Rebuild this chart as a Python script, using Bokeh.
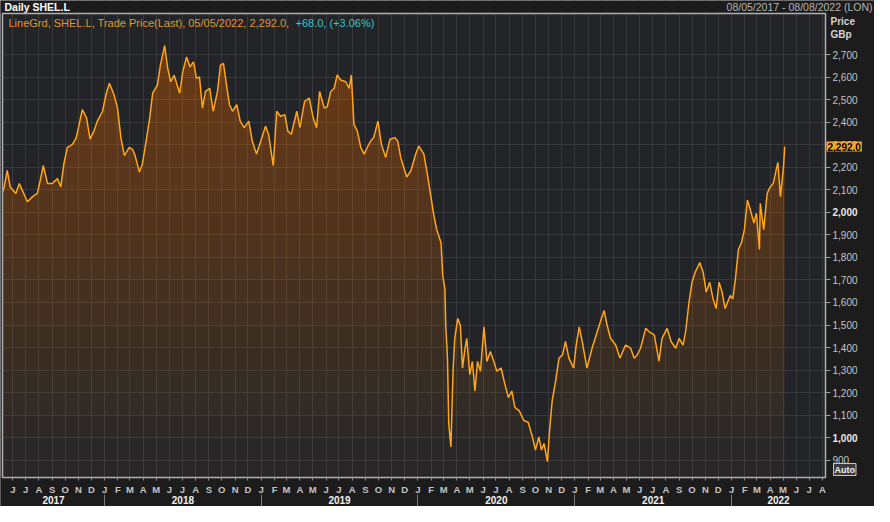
import numpy as np
import pandas as pd
from bokeh.plotting import figure
from bokeh.models import FixedTicker, NumeralTickFormatter, Label, DatetimeAxis, LinearAxis, Range1d, Grid
from bokeh.embed import file_html
from bokeh.resources import INLINE

# ---------------- data ----------------
DATES = [
    "2017-05-08", "2017-05-12", "2017-05-19", "2017-05-26", "2017-06-08", "2017-06-16", "2017-06-23",
    "2017-07-05", "2017-07-17", "2017-07-28", "2017-08-04", "2017-08-11", "2017-08-21", "2017-09-01",
    "2017-09-13", "2017-09-21", "2017-09-28", "2017-10-06", "2017-10-18", "2017-10-27", "2017-11-10",
    "2017-11-20", "2017-11-28", "2017-12-07", "2017-12-15", "2017-12-27",
    "2018-01-04", "2018-01-12", "2018-01-23", "2018-01-31", "2018-02-08", "2018-02-16", "2018-02-27",
    "2018-03-07", "2018-03-13", "2018-03-23", "2018-03-30", "2018-04-09", "2018-04-16", "2018-04-23",
    "2018-05-04", "2018-05-11", "2018-05-21", "2018-05-28", "2018-06-04", "2018-06-12", "2018-06-25",
    "2018-07-02", "2018-07-11", "2018-07-19", "2018-07-27", "2018-08-03", "2018-08-10", "2018-08-17",
    "2018-08-24", "2018-09-03", "2018-09-11", "2018-09-21", "2018-09-28", "2018-10-05", "2018-10-12",
    "2018-10-19", "2018-10-26", "2018-11-05", "2018-11-13", "2018-11-22", "2018-12-03", "2018-12-11",
    "2018-12-21", "2018-12-31",
    "2019-01-11", "2019-01-18", "2019-01-29", "2019-02-06", "2019-02-15", "2019-02-25", "2019-03-04",
    "2019-03-12", "2019-03-25", "2019-04-01", "2019-04-12", "2019-04-23", "2019-05-02", "2019-05-10",
    "2019-05-17", "2019-05-28", "2019-06-04", "2019-06-12", "2019-06-20", "2019-06-27", "2019-07-05",
    "2019-07-17", "2019-07-25", "2019-07-30", "2019-08-05", "2019-08-13", "2019-08-21", "2019-08-29",
    "2019-09-05", "2019-09-13", "2019-09-20", "2019-09-30", "2019-10-08", "2019-10-18", "2019-10-28",
    "2019-11-08", "2019-11-15", "2019-11-22", "2019-12-06", "2019-12-16", "2019-12-27",
    "2020-01-03", "2020-01-15", "2020-01-23", "2020-01-29", "2020-02-07", "2020-02-14", "2020-02-24",
    "2020-02-28", "2020-03-04", "2020-03-06", "2020-03-10", "2020-03-13", "2020-03-18", "2020-03-23",
    "2020-03-27", "2020-04-03", "2020-04-09", "2020-04-14", "2020-04-20", "2020-04-24", "2020-05-01",
    "2020-05-07", "2020-05-13", "2020-05-19", "2020-05-26", "2020-06-03", "2020-06-10", "2020-06-18",
    "2020-06-26", "2020-07-03", "2020-07-13", "2020-07-20", "2020-07-30", "2020-08-07", "2020-08-14",
    "2020-08-24", "2020-09-04", "2020-09-14", "2020-09-24", "2020-10-01", "2020-10-09", "2020-10-15",
    "2020-10-21", "2020-10-29", "2020-11-03", "2020-11-09", "2020-11-17", "2020-11-25", "2020-12-03",
    "2020-12-10", "2020-12-18", "2020-12-29",
    "2021-01-04", "2021-01-11", "2021-01-18", "2021-01-29", "2021-02-10", "2021-02-22", "2021-03-10",
    "2021-03-17", "2021-03-25", "2021-04-06", "2021-04-16", "2021-04-29", "2021-05-11", "2021-05-19",
    "2021-05-26", "2021-06-03", "2021-06-15", "2021-06-23", "2021-07-05", "2021-07-16", "2021-07-23",
    "2021-08-04", "2021-08-13", "2021-08-24", "2021-09-01", "2021-09-10", "2021-09-16", "2021-09-24",
    "2021-10-01", "2021-10-08", "2021-10-19", "2021-10-27", "2021-11-03", "2021-11-11", "2021-11-19",
    "2021-11-26", "2021-12-03", "2021-12-10", "2021-12-17", "2021-12-29",
    "2022-01-04", "2022-01-10", "2022-01-17", "2022-01-24", "2022-01-31", "2022-02-07", "2022-02-14",
    "2022-02-22", "2022-02-28", "2022-03-07", "2022-03-09", "2022-03-17", "2022-03-25", "2022-04-01",
    "2022-04-08", "2022-04-19", "2022-04-25", "2022-05-02", "2022-05-05",
]
PRICES = [
    2090, 2113, 2186, 2113, 2084, 2128, 2099,
    2047, 2070, 2084, 2142, 2208, 2128, 2128,
    2150, 2113, 2215, 2288, 2302, 2332, 2456,
    2419, 2325, 2361, 2405, 2448,
    2522, 2573, 2522, 2463, 2332, 2252, 2288,
    2280, 2252, 2179, 2215, 2332, 2419, 2529,
    2565, 2654, 2741, 2639, 2580, 2609, 2529,
    2624, 2690, 2646, 2668, 2595, 2602, 2463,
    2537, 2551, 2449, 2537, 2654, 2661, 2566,
    2478, 2449, 2478, 2405, 2376, 2405, 2317,
    2259, 2317,
    2383, 2347, 2208, 2449, 2427, 2434, 2361,
    2347, 2449, 2376, 2493, 2507, 2420, 2376,
    2537, 2463, 2470, 2537, 2551, 2610, 2588,
    2580, 2551, 2610, 2391, 2361, 2288, 2259,
    2288, 2317, 2332, 2405, 2302, 2244, 2325,
    2332, 2317, 2244, 2157, 2186, 2259,
    2295, 2259, 2171, 2100, 1989, 1923, 1865,
    1718, 1660, 1499, 1353, 1061, 959, 1295,
    1441, 1529, 1499, 1309, 1397, 1441, 1280,
    1338, 1207, 1338, 1295, 1492, 1338, 1382,
    1338, 1295, 1309, 1251, 1178, 1207, 1134,
    1120, 1076, 1068, 1003, 945, 1003, 945,
    974, 893, 1032, 1163, 1251, 1353, 1367,
    1427, 1353, 1309,
    1411, 1492, 1427, 1309, 1397, 1470, 1565,
    1499, 1441, 1411, 1353, 1411, 1397, 1353,
    1367, 1397, 1485, 1470, 1456, 1339, 1441,
    1485, 1427, 1397, 1441, 1411, 1470, 1602,
    1690, 1733, 1777, 1733, 1646, 1690, 1616,
    1573, 1690, 1646, 1573, 1631,
    1616, 1704, 1835, 1865, 1923, 2055, 2011,
    1953, 1996, 1835, 2040, 1923, 2084, 2113,
    2128, 2222, 2070, 2201, 2292,
]
MONTH_LETTERS = ["J", "F", "M", "A", "M", "J", "J", "A", "S", "O", "N", "D"]
YEAR_LABELS = ["2017", "2018", "2019", "2020", "2021", "2022"]
Y_TICKS = list(range(900, 2800, 100))
RANGE_START = "2017-05-08"
RANGE_END = "2022-08-08"
Y_MIN, Y_MAX = 823, 2883

HEADER_TEXT = "Daily SHEL.L"
RANGE_TEXT = "08/05/2017 - 08/08/2022 (LON)"
INFO_TEXT = "LineGrd, SHEL.L, Trade Price(Last), 05/05/2022, 2,292.0,"
CHANGE_TEXT = "+68.0, (+3.06%)"
AXIS_TITLE_1 = "Price"
AXIS_TITLE_2 = "GBp"
AUTO_TEXT = "Auto"

# ---------------- layout / styling ----------------
FONT = "Liberation Sans"
BG = "#1c1c1c"
PLOT_BG = "#222428"
GRID = "#37393d"
LINE = "#ffa61c"
FILL = "#f08c10"
W, H = 874, 506            # canvas
PL, PT = 2, 13             # plot-area offset inside canvas
FW, FH = 823, 464          # plot-area size


def ms(t):
    return int(pd.Timestamp(t).value // 10**6)


x0, x1 = ms(RANGE_START), ms(RANGE_END)
kx = (x1 - x0) / FW                   # ms per pixel
ky = (Y_MAX - Y_MIN) / FH             # price units per pixel
X_LO, X_HI = x0 - PL * kx, x1 + (W - PL - FW) * kx
Y_LO, Y_HI = Y_MIN - (H - PT - FH) * ky, Y_MAX + PT * ky

x = pd.to_datetime(DATES)
y = np.array(PRICES, dtype=float)

p = figure(width=W, height=H, x_axis_type=None, y_axis_type=None,
           x_range=Range1d(X_LO, X_HI), y_range=Range1d(Y_LO, Y_HI),
           output_backend="svg", toolbar_location=None,
           min_border=0, min_border_left=0, min_border_right=0, min_border_top=0, min_border_bottom=0,
           background_fill_color=PLOT_BG, border_fill_color=BG, outline_line_color=None)

month_starts = pd.date_range("2017-06-01", RANGE_END, freq="MS")
month_ticks = [ms(t) for t in month_starts]
p.add_layout(Grid(dimension=0, ticker=FixedTicker(ticks=month_ticks, minor_ticks=[]), grid_line_color=GRID))
p.add_layout(Grid(dimension=1, ticker=FixedTicker(ticks=Y_TICKS, minor_ticks=[]), grid_line_color=GRID))

# gradient-like area fill (stacked translucent bands)
p.varea(x=x, y1=Y_MIN, y2=y, fill_color=FILL, fill_alpha=0.03)
for lvl in Y_TICKS[1:]:
    p.varea(x=x, y1=lvl, y2=np.maximum(y, lvl), fill_color=FILL, fill_alpha=0.022)
p.line(x, y, line_color=LINE, line_width=1.5)

# mask everything outside the plot area, then outline it
p.quad(left=[X_LO, X_LO, X_LO, x1], right=[X_HI, X_HI, x0, X_HI],
       bottom=[Y_MAX, Y_LO, Y_LO, Y_LO], top=[Y_HI, Y_MIN, Y_HI, Y_HI],
       fill_color=BG, line_color=None)
p.quad(left=[x0], right=[x1], bottom=[Y_MIN], top=[Y_MAX], fill_color=None,
       line_color="#b0b0b0", line_width=1.5)

# month axis
mx = DatetimeAxis(fixed_location=Y_MIN, ticker=FixedTicker(ticks=month_ticks, minor_ticks=[]))
mx.major_label_overrides = {ms(t): MONTH_LETTERS[t.month - 1] for t in month_starts}
mx.axis_line_color = None
mx.major_tick_line_color = "#8c8c8c"
mx.major_tick_out = 3
mx.major_tick_in = 0
mx.minor_tick_line_color = None
mx.major_label_standoff = 3
mx.major_label_text_color = "#c4c4c4"
mx.major_label_text_font = FONT
mx.major_label_text_font_size = "9.5px"
mx.major_label_text_font_style = "bold"
p.add_layout(mx, "below")

# year row: dividers and labels
year_bounds = ([pd.Timestamp(RANGE_START)] + [pd.Timestamp(f"{yl}-01-01") for yl in YEAR_LABELS[1:]]
               + [pd.Timestamp(RANGE_END)])
year_mids = [ms(year_bounds[i] + (year_bounds[i + 1] - year_bounds[i]) / 2) for i in range(len(YEAR_LABELS))]
year_divs = [ms(b) for b in year_bounds[1:-1]]
row_top = Y_MIN - 17 * ky

dx = DatetimeAxis(fixed_location=row_top, ticker=FixedTicker(ticks=year_divs, minor_ticks=[]))
dx.axis_line_color = None
dx.major_tick_line_color = "#7a7a7a"
dx.major_tick_out = 14
dx.major_tick_in = 0
dx.minor_tick_line_color = None
dx.major_label_text_color = None
p.add_layout(dx, "below")

yx = DatetimeAxis(fixed_location=row_top, ticker=FixedTicker(ticks=year_mids, minor_ticks=[]))
yx.major_label_overrides = {m: yl for m, yl in zip(year_mids, YEAR_LABELS)}
yx.axis_line_color = None
yx.major_tick_line_color = None
yx.major_tick_out = 0
yx.major_tick_in = 0
yx.minor_tick_line_color = None
yx.major_label_standoff = 1
yx.major_label_text_color = "#f2f2f2"
yx.major_label_text_font = FONT
yx.major_label_text_font_size = "10px"
yx.major_label_text_font_style = "bold"
p.add_layout(yx, "below")

# price axis (regular labels) and bold thousands
def price_axis(ticks, color, style):
    a = LinearAxis(fixed_location=x1, ticker=FixedTicker(ticks=ticks, minor_ticks=[]),
                   formatter=NumeralTickFormatter(format="0,0"))
    a.axis_line_color = None
    a.major_tick_line_color = "#a0a0a0"
    a.major_tick_out = 5
    a.major_tick_in = 0
    a.minor_tick_line_color = None
    a.major_label_standoff = 2
    a.major_label_text_color = color
    a.major_label_text_font = FONT
    a.major_label_text_font_size = "10px"
    a.major_label_text_font_style = style
    p.add_layout(a, "right")

price_axis([t for t in Y_TICKS if t % 1000], "#c4c4c4", "normal")
price_axis([t for t in Y_TICKS if t % 1000 == 0], "#e8e8e8", "bold")

# texts (canvas coordinates, measured from the top-left of the canvas)
def lab(cx, cy, text, **kw):
    base = dict(x=cx, y=H - cy, x_units="screen", y_units="screen", text=text,
                text_font=FONT, text_font_size="10px", text_baseline="middle")
    base.update(kw)
    p.add_layout(Label(**base))

lab(4, 6, HEADER_TEXT, text_color="#ffffff", text_font_style="bold", text_font_size="10.5px")
lab(872, 6, RANGE_TEXT, text_color="#b4b4b4", text_align="right", text_font_size="10.5px")
lab(PL + 6, PT + 9, INFO_TEXT, text_color="#e0962a", text_font_size="11px")
lab(PL + 293, PT + 9, CHANGE_TEXT, text_color="#36c3c8", text_font_size="11px")
lab(PL + FW + 5, PT + 8, AXIS_TITLE_1, text_color="#d4d4d4", text_font_style="bold")
lab(PL + FW + 5, PT + 21, AXIS_TITLE_2, text_color="#d4d4d4", text_font_style="bold")
lab(PL + FW + 8, PT + FH - 2, AUTO_TEXT, text_color="#f0f0f0", text_font_style="bold",
    text_font_size="9px", text_baseline="bottom", background_fill_color="#3c3c3c",
    border_line_color="#c8c8c8", padding=1)

p.add_layout(Label(x=PL + FW + 1, y=PRICES[-1], x_units="screen", y_units="data",
                   text=f"{PRICES[-1]:,.1f}", text_color="#000000", text_font=FONT,
                   text_font_size="10px", text_font_style="bold", text_baseline="middle",
                   background_fill_color="#f5a623", padding=1))

html = file_html(p, INLINE)
html = html.replace("<body>", '<body style="background-color:#1c1c1c;">', 1)
open("out.html", "w").write(html)
